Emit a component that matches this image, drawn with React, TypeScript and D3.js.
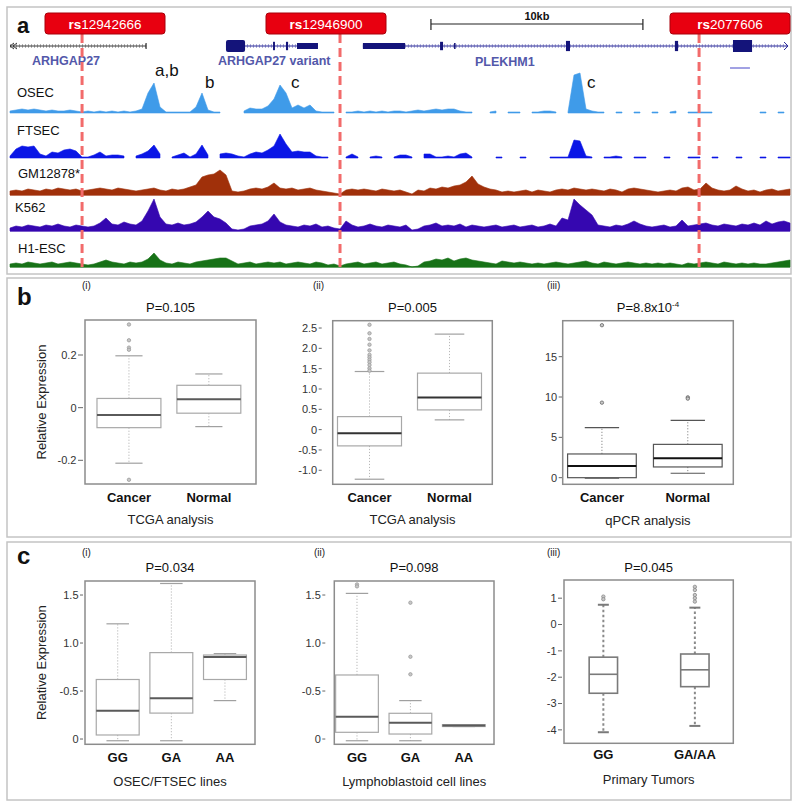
import React from 'react';
import * as d3 from 'd3';

const FONT = "'Liberation Sans', Arial, Helvetica, sans-serif";

// ================= Panel a data =================
const SPAN_KB = 36.8;
const N_BINS = 131;
const BIN_KB = SPAN_KB / (N_BINS - 1);

const trackNames = ['OSEC', 'FTSEC', 'GM12878*', 'K562', 'H1-ESC'];

const osec = [
  2, 3, 4, 3, 4, 3, 2, 3, 2, 2,
  3, 2, 1, 2, 1, 2, 1, 2, 1, 2,
  1, 2, 4, 20, 30, 6, 1, 1, 1, 1,
  1, 6, 20, 3, 1, 1, null, null, null, 2,
  5, 4, 4, 7, 14, 28, 20, 5, 8, 5,
  8, 2, 1, 1, 1, null, 1, 1, 2, 1,
  2, 1, 2, 1, 2, 2, 1, 2, 3, 2,
  3, 4, 3, 4, 4, 2, 1, 1, null, null,
  1, 2, null, 1, 1, 1, null, 1, 1, 2,
  2, 1, null, 1, 38, 40, 4, 2, 1, 1,
  null, 1, 1, null, 1, 1, null, 1, 1, null,
  1, 2, null, 1, 1, 1, 1, 1, null, null,
  null, null, null, null, null, 1, 1, null, 1, 1,
  null,
];
const ftsec = [
  2, 9, 12, 11, 12, 4, 2, 6, 5, 8,
  9, 7, 1, 1, 3, 6, 2, 3, 3, 2,
  null, 2, 4, 7, 13, 4, null, 1, 3, 5,
  1, 4, 13, 3, null, 4, 5, 4, 2, 1,
  4, 6, 5, 8, 12, 24, 14, 6, 7, 6,
  6, 2, 1, 1, null, null, 1, 4, 1, null,
  1, 2, 1, null, 1, 3, 3, 1, null, 4,
  4, 1, 1, 2, 1, 4, 5, 1, null, null,
  null, 1, 1, null, null, 1, 1, null, null, null,
  1, 1, 1, 1, 18, 17, 2, 1, null, 1,
  1, 2, 1, null, 1, 1, 1, null, null, 1,
  1, null, null, 1, 1, 1, null, 1, 1, null,
  null, 1, 1, null, null, 1, 1, null, 1, 1,
  1,
];
const gm12878 = [
  4, 5, 4, 6, 5, 4, 6, 5, 7, 6,
  5, 6, 4, 5, 6, 7, 6, 5, 7, 6,
  5, 4, 5, 6, 7, 5, 4, 6, 5, 6,
  8, 10, 18, 20, 21, 25, 20, 4, 3, 4,
  6, 7, 6, 8, 12, 7, 6, 7, 5, 6,
  7, 5, 4, 3, 2, 1, 5, 6, 5, 6,
  5, 4, 6, 5, 4, 5, 3, 1, 5, 4,
  7, 6, 8, 7, 9, 10, 13, 19, 11, 8,
  6, 5, 3, 4, 3, 4, 5, 3, 5, 4,
  3, 5, 6, 5, 7, 6, 5, 6, 5, 4,
  6, 5, 3, 6, 7, 6, 5, 4, 3, 4,
  5, 4, 7, 8, 5, 6, 12, 7, 5, 4,
  5, 9, 6, 4, 5, 3, 5, 6, 4, 5,
  6,
];
const k562 = [
  3, 5, 4, 6, 5, 4, 6, 5, 7, 5,
  4, 6, 5, 4, 5, 8, 13, 7, 6, 9,
  7, 6, 10, 20, 32, 14, 7, 6, 8, 6,
  7, 9, 14, 20, 14, 12, 8, 2, 1, 2,
  5, 6, 7, 10, 17, 9, 6, 5, 4, 6,
  5, 7, 4, 5, 3, 2, 10, 6, 4, 5,
  7, 5, 4, 6, 5, 4, 6, 1, 2, 5,
  6, 8, 5, 6, 5, 7, 4, 6, 5, 4,
  5, 6, 4, 5, 6, 4, 5, 6, 4, 5,
  7, 5, 13, 11, 32, 26, 21, 16, 6, 5,
  4, 6, 5, 7, 10, 7, 5, 4, 5, 6,
  4, 5, 11, 5, 6, 7, 8, 6, 5, 7,
  6, 5, 7, 6, 8, 6, 10, 7, 9, 10,
  8,
];
const h1esc = [
  3, 4, 3, 5, 4, 3, 4, 5, 3, 4,
  5, 4, 3, 2, 3, 5, 7, 5, 4, 3,
  5, 4, 5, 8, 14, 7, 4, 3, 5, 4,
  3, 5, 6, 7, 8, 9, 9, 6, 3, 4,
  5, 3, 4, 5, 4, 5, 3, 4, 5, 4,
  3, 5, 4, 2, 3, 1, 3, 4, 5, 3,
  4, 5, 3, 4, 5, 3, 2, 0, 1, 5,
  6, 8, 7, 9, 6, 8, 9, 7, 6, 5,
  4, 3, 6, 5, 4, 5, 4, 3, 4, 3,
  4, 5, 4, 3, 4, 5, 6, 4, 3, 5,
  4, 3, 4, 5, 4, 3, 4, 3, 4, 3,
  4, 3, 2, 4, 3, 4, 5, 4, 3, 5,
  4, 3, 4, 3, 4, 3, 3, 4, 5, 6,
  7,
];
const trackValues = [osec, ftsec, gm12878, k562, h1esc];

const snpIds = ['rs12942666', 'rs12946900', 'rs2077606'];
const snpKb = [3.40, 15.57, 32.51];

const peakLabels = ['a,b', 'b', 'c', 'c'];
const peakKb = [6.70, 9.01, 12.83, 26.84];

const geneNames = ['ARHGAP27', 'ARHGAP27 variant', 'PLEKHM1'];
const geneStartKb = [0, 10.19, 16.65];
const geneEndKb = [6.42, 14.53, 36.66];
const exonStartKb = [10.19, 12.41, 13.02, 13.54, 16.65, 20.29, 20.95, 26.23, 31.37, 34.11];
const exonEndKb = [11.09, 12.50, 13.12, 14.53, 18.64, 20.43, 20.99, 26.42, 31.52, 35.01];
const exonLevel = [1, 0.7, 0.7, 0.5, 0.5, 0.7, 0.5, 0.85, 0.85, 1];
const extraTranscriptKb = [33.97, 34.91];
const scaleBarKb = [19.86, 29.86];
const scaleBarLabel = '10kb';

// ================= Panel b / c data =================
const bI_cats = ['Cancer', 'Normal'];
const bI_q1 = [-0.076, -0.021];
const bI_med = [-0.028, 0.032];
const bI_q3 = [0.035, 0.085];
const bI_lo = [-0.211, -0.072];
const bI_hi = [0.197, 0.128];
const bI_out = [[0.316, 0.256, 0.228, 0.22, -0.274], []];
const bI_ticks = [-0.2, 0, 0.2];
const bI_tickLabels = ['-0.2', '0', '0.2'];

const bII_cats = ['Cancer', 'Normal'];
const bII_q1 = [-0.40, 0.485];
const bII_med = [-0.09, 0.79];
const bII_q3 = [0.32, 1.39];
const bII_lo = [-1.22, 0.24];
const bII_hi = [1.43, 2.35];
const bII_out = [[2.58, 2.37, 2.23, 2.09, 1.95, 1.84, 1.78, 1.72, 1.66, 1.59, 1.51, 1.45], []];
const bII_ticks = [-1, -0.5, 0, 0.5, 1, 1.5, 2, 2.5];
const bII_tickLabels = ['-1.0', '-0.5', '0', '0.5', '1.0', '1.5', '2.0', '2.5'];

const bIII_cats = ['Cancer', 'Normal'];
const bIII_q1 = [0, 1.33];
const bIII_med = [1.45, 2.4];
const bIII_q3 = [2.94, 4.13];
const bIII_lo = [-0.05, 0.55];
const bIII_hi = [6.2, 7.1];
const bIII_out = [[18.9, 9.3], [9.96, 9.8]];
const bIII_ticks = [0, 5, 10, 15];
const bIII_tickLabels = ['0', '5', '10', '15'];

const cI_cats = ['GG', 'GA', 'AA'];
const cI_q1 = [0.042, 0.27, 0.62];
const cI_med = [0.295, 0.424, 0.855];
const cI_q3 = [0.62, 0.9, 0.875];
const cI_lo = [-0.018, -0.018, 0.40];
const cI_hi = [1.2, 1.62, 0.89];
const cI_out: number[][] = [[], [], []];
const cI_ticks = [0, 0.5, 1.0, 1.5];
const cI_tickLabels = ['0', '-0.5', '1.0', '1.5'];

const cII_cats = ['GG', 'GA', 'AA'];
const cII_q1 = [0.07, 0.052, 0.13];
const cII_med = [0.232, 0.17, 0.14];
const cII_q3 = [0.667, 0.268, 0.15];
const cII_lo = [-0.018, -0.018, 0.13];
const cII_hi = [1.517, 0.4, 0.15];
const cII_out = [[1.61, 1.59], [0.857, 0.674, 1.42], []];
const cII_ticks = [0, 0.5, 1.0, 1.5];
const cII_tickLabels = ['0', '-0.5', '1.0', '1.5'];

const cIII_cats = ['GG', 'GA/AA'];
const cIII_q1 = [-2.61, -2.36];
const cIII_med = [-1.89, -1.72];
const cIII_q3 = [-1.24, -1.12];
const cIII_lo = [-4.09, -3.85];
const cIII_hi = [0.75, 0.64];
const cIII_out = [[1.06, 0.96], [1.43, 1.31, 1.12, 1.0, 0.87]];
const cIII_ticks = [-4, -3, -2, -1, 0, 1];
const cIII_tickLabels = ['-4', '-3', '-2', '-1', '0', '1'];

// ================= Layout / styles =================
const trackBase = [113, 158, 195, 231, 267];
const trackColors = ['#3f9be9', '#0a16e6', '#a0300a', '#3507b0', '#177217'];
const trackLabelPos = [[17, 97], [17, 135], [18, 178], [15, 212], [18, 253]];
const snpBoxX = [45, 266, 670];
const peakLabelDx = [3, 4, 9, 8];
const peakLabelY = [76, 88, 88, 88];
const geneLabelPos = [[32, 65], [218, 65], [475, 66]];

type Style = {
  box: string; boxW: number; med: string; medW: number; whisk: string; whiskW: number;
  dash: string; cap: string; capSW: number; frame: string; out: string;
};
const lightStyle: Style = { box: '#a8a8a8', boxW: 1.2, med: '#5a5a5a', medW: 2, whisk: '#b8b8b8', whiskW: 1, dash: '1.2 1.8', cap: '#a0a0a0', capSW: 1.2, frame: '#8c8c8c', out: '#9a9a9a' };
const darkStyle: Style = { box: '#555', boxW: 1.2, med: '#111', medW: 2, whisk: '#888', whiskW: 1, dash: '1.2 1.8', cap: '#555', capSW: 1.2, frame: '#8c8c8c', out: '#666' };
const tumorStyle: Style = { box: '#7a7a7a', boxW: 1.6, med: '#7a7a7a', medW: 1.6, whisk: '#8a8a8a', whiskW: 2, dash: '2.5 2.5', cap: '#7a7a7a', capSW: 2, frame: '#8c8c8c', out: '#888' };

type BoxCfg = {
  frame: [number, number, number, number];
  xDomain: [number, number]; yDomain: [number, number];
  cats: string[]; q1: number[]; med: number[]; q3: number[]; lo: number[]; hi: number[]; out: number[][];
  ticks: number[]; tickLabels: string[]; tickGap: number; tickLen: number;
  boxW: number; capW: number; style: Style;
  title: string; titleSup?: string; titleY: number;
  sub: string; subX: number; subY: number;
  xlabel: string; catY: number; xlabelY: number; ylabel?: boolean;
};

const panels: BoxCfg[] = [
  { frame: [85, 320, 256, 484], xDomain: [0.45, 2.59], yDomain: [-0.29, 0.333],
    cats: bI_cats, q1: bI_q1, med: bI_med, q3: bI_q3, lo: bI_lo, hi: bI_hi, out: bI_out,
    ticks: bI_ticks, tickLabels: bI_tickLabels, tickGap: 2, tickLen: 5, boxW: 0.8, capW: 0.34, style: lightStyle,
    title: 'P=0.105', titleY: 312, sub: '(i)', subX: 82, subY: 289, xlabel: 'TCGA analysis', catY: 502, xlabelY: 524, ylabel: true },
  { frame: [332.7, 320.7, 492.3, 484.3], xDomain: [0.54, 2.535], yDomain: [-1.345, 2.68],
    cats: bII_cats, q1: bII_q1, med: bII_med, q3: bII_q3, lo: bII_lo, hi: bII_hi, out: bII_out,
    ticks: bII_ticks, tickLabels: bII_tickLabels, tickGap: 11, tickLen: 3, boxW: 0.8, capW: 0.37, style: { ...lightStyle, med: '#333' },
    title: 'P=0.005', titleY: 312, sub: '(ii)', subX: 313, subY: 289, xlabel: 'TCGA analysis', catY: 502, xlabelY: 524 },
  { frame: [562.7, 320.7, 733.3, 484.3], xDomain: [0.543, 2.53], yDomain: [-0.82, 19.46],
    cats: bIII_cats, q1: bIII_q1, med: bIII_med, q3: bIII_q3, lo: bIII_lo, hi: bIII_hi, out: bIII_out,
    ticks: bIII_ticks, tickLabels: bIII_tickLabels, tickGap: 0, tickLen: 4, boxW: 0.8, capW: 0.4, style: darkStyle,
    title: 'P=8.8x10', titleSup: '-4', titleY: 312, sub: '(iii)', subX: 547, subY: 289, xlabel: 'qPCR analysis', catY: 502, xlabelY: 525 },
  { frame: [85, 581, 255, 744.3], xDomain: [0.39, 3.56], yDomain: [-0.055, 1.646],
    cats: cI_cats, q1: cI_q1, med: cI_med, q3: cI_q3, lo: cI_lo, hi: cI_hi, out: cI_out,
    ticks: cI_ticks, tickLabels: cI_tickLabels, tickGap: 2, tickLen: 3, boxW: 0.8, capW: 0.42, style: lightStyle,
    title: 'P=0.034', titleY: 572, sub: '(i)', subX: 82, subY: 556, xlabel: 'OSEC/FTSEC lines', catY: 762, xlabelY: 786, ylabel: true },
  { frame: [334.3, 581, 494, 744.3], xDomain: [0.575, 3.565], yDomain: [-0.055, 1.646],
    cats: cII_cats, q1: cII_q1, med: cII_med, q3: cII_q3, lo: cII_lo, hi: cII_hi, out: cII_out,
    ticks: cII_ticks, tickLabels: cII_tickLabels, tickGap: 9, tickLen: 3, boxW: 0.8, capW: 0.42, style: lightStyle,
    title: 'P=0.098', titleY: 572, sub: '(ii)', subX: 314, subY: 556, xlabel: 'Lymphoblastoid cell lines', catY: 762, xlabelY: 786 },
  { frame: [564, 580, 733.3, 743.3], xDomain: [0.57, 2.42], yDomain: [-4.51, 1.69],
    cats: cIII_cats, q1: cIII_q1, med: cIII_med, q3: cIII_q3, lo: cIII_lo, hi: cIII_hi, out: cIII_out,
    ticks: cIII_ticks, tickLabels: cIII_tickLabels, tickGap: 2, tickLen: 4, boxW: 0.31, capW: 0.12, style: tumorStyle,
    title: 'P=0.045', titleY: 572, sub: '(iii)', subX: 547, subY: 556, xlabel: 'Primary Tumors', catY: 759, xlabelY: 784 },
];

function BoxPanel({ c }: { c: BoxCfg }) {
  const [fx0, fy0, fx1, fy1] = c.frame;
  const xs = d3.scaleLinear().domain(c.xDomain).range([fx0, fx1]);
  const ys = d3.scaleLinear().domain(c.yDomain).range([fy1, fy0]);
  const unit = xs(1) - xs(0);
  const bw = c.boxW * unit;
  const cw = c.capW * unit;
  const cx = (fx0 + fx1) / 2;
  const s = c.style;
  return (
    <g>
      <text x={c.subX} y={c.subY} fontSize={10} fill="#222">{c.sub}</text>
      <text x={cx} y={c.titleY} fontSize={13} textAnchor="middle" fill="#111">
        {c.title}
        {c.titleSup ? <tspan fontSize={8} dy={-5}>{c.titleSup}</tspan> : null}
      </text>
      {c.ticks.map((t, i) => (
        <g key={'t' + i}>
          <line x1={fx0 - c.tickGap - c.tickLen} x2={fx0 - c.tickGap} y1={ys(t)} y2={ys(t)} stroke="#666" strokeWidth={1} />
          <text x={fx0 - c.tickGap - c.tickLen - 1.5} y={ys(t)} dy="0.36em" textAnchor="end" fontSize={11} fill="#333">{c.tickLabels[i]}</text>
        </g>
      ))}
      {c.cats.map((cat, i) => {
        const px = xs(i + 1);
        return (
          <g key={cat}>
            <line x1={px} x2={px} y1={ys(c.q3[i])} y2={ys(c.hi[i])} stroke={s.whisk} strokeWidth={s.whiskW} strokeDasharray={s.dash} />
            <line x1={px} x2={px} y1={ys(c.q1[i])} y2={ys(c.lo[i])} stroke={s.whisk} strokeWidth={s.whiskW} strokeDasharray={s.dash} />
            <line x1={px - cw / 2} x2={px + cw / 2} y1={ys(c.hi[i])} y2={ys(c.hi[i])} stroke={s.cap} strokeWidth={s.capSW} />
            <line x1={px - cw / 2} x2={px + cw / 2} y1={ys(c.lo[i])} y2={ys(c.lo[i])} stroke={s.cap} strokeWidth={s.capSW} />
            <rect x={px - bw / 2} y={ys(c.q3[i])} width={bw} height={Math.max(0.5, ys(c.q1[i]) - ys(c.q3[i]))} fill="#fff" stroke={s.box} strokeWidth={s.boxW} />
            <line x1={px - bw / 2} x2={px + bw / 2} y1={ys(c.med[i])} y2={ys(c.med[i])} stroke={s.med} strokeWidth={s.medW} />
            {c.out[i].map((o, j) => (
              <circle key={j} cx={px} cy={ys(o)} r={1.7} fill="#c8c8c8" stroke={s.out} strokeWidth={0.8} />
            ))}
            <text x={px} y={c.catY} textAnchor="middle" fontSize={13} fontWeight="bold" fill="#111">{cat}</text>
          </g>
        );
      })}
      <rect x={fx0} y={fy0} width={fx1 - fx0} height={fy1 - fy0} fill="none" stroke={s.frame} strokeWidth={1.5} />
      <text x={cx} y={c.xlabelY} textAnchor="middle" fontSize={13} fill="#222">{c.xlabel}</text>
      {c.ylabel ? (
        <text transform={`translate(46,${(fy0 + fy1) / 2}) rotate(-90)`} textAnchor="middle" fontSize={13} fill="#222">Relative Expression</text>
      ) : null}
    </g>
  );
}

export default function App() {
  const x = d3.scaleLinear().domain([0, SPAN_KB]).range([10, 790]);
  const hScale = d3.scaleLinear().domain([0, 40]).range([0, 40]);
  const geneY = 46;

  const areas = trackValues.map((vals, k) => {
    const base = trackBase[k];
    const gen = d3.area<number | null>()
      .defined((d) => d !== null)
      .x((_, i) => x(i * BIN_KB))
      .y0(base)
      .y1((d) => base - hScale(d as number))
      .curve(d3.curveLinear);
    return gen(vals) || '';
  });

  return (
    <svg width={800} height={805} style={{ position: 'absolute', left: 0, top: 0, background: '#fff' }} fontFamily={FONT}>
      <rect x={0} y={0} width={800} height={805} fill="#fff" />
      {/* panel frames */}
      <rect x={7} y={7} width={784} height={267} fill="none" stroke="#c4c4c4" strokeWidth={1.5} />
      <rect x={7} y={278} width={784} height={259} fill="none" stroke="#c4c4c4" strokeWidth={1.5} />
      <rect x={7} y={542} width={784} height={258} fill="none" stroke="#c4c4c4" strokeWidth={1.5} />

      {/* ===== Panel a ===== */}
      <text x={17} y={33} fontSize={22} fontWeight="bold" fill="#111">a</text>

      {/* scale bar */}
      <line x1={x(scaleBarKb[0])} x2={x(scaleBarKb[1])} y1={24} y2={24} stroke="#222" strokeWidth={1.2} />
      <line x1={x(scaleBarKb[0])} x2={x(scaleBarKb[0])} y1={19} y2={30} stroke="#222" strokeWidth={1.2} />
      <line x1={x(scaleBarKb[1])} x2={x(scaleBarKb[1])} y1={19} y2={30} stroke="#222" strokeWidth={1.2} />
      <text x={x((scaleBarKb[0] + scaleBarKb[1]) / 2)} y={20} textAnchor="middle" fontSize={11} fontWeight="bold" fill="#111">{scaleBarLabel}</text>

      {/* genes */}
      {geneNames.map((g, i) => {
        const col = i === 0 ? '#3a3a3a' : '#2a2a9a';
        return (
          <g key={g}>
            <line x1={x(geneStartKb[i])} x2={x(geneEndKb[i])} y1={geneY} y2={geneY} stroke={col} strokeWidth={1} />
            <line x1={x(geneStartKb[i])} x2={x(geneEndKb[i])} y1={geneY} y2={geneY} stroke={col} strokeWidth={4} strokeDasharray="0.7 2.3" opacity={0.55} />
            <text x={geneLabelPos[i][0]} y={geneLabelPos[i][1]} fontSize={12.5} fontWeight="bold" fill="#5358aa">{g}</text>
          </g>
        );
      })}
      <line x1={x(geneEndKb[0])} x2={x(geneEndKb[0])} y1={geneY - 3} y2={geneY + 3} stroke="#333" strokeWidth={1.2} />
      <path d={`M${x(0) + 4},${geneY - 3} L${x(0)},${geneY} L${x(0) + 4},${geneY + 3} M${x(0) + 7},${geneY - 3} L${x(0) + 3},${geneY} L${x(0) + 7},${geneY + 3}`} fill="none" stroke="#333" strokeWidth={1} />
      <path d={`M${x(geneEndKb[2]) - 3},${geneY - 4} L${x(geneEndKb[2]) + 1},${geneY} L${x(geneEndKb[2]) - 3},${geneY + 4}`} fill="none" stroke="#2a2a9a" strokeWidth={1} />
      {exonStartKb.map((s, i) => {
        const hh = 12 * exonLevel[i];
        return <rect key={i} x={x(s)} y={geneY - hh / 2} width={Math.max(1.5, x(exonEndKb[i]) - x(s))} height={hh} fill="#14147a" rx={i === 0 ? 2 : 0} />;
      })}
      <line x1={x(extraTranscriptKb[0])} x2={x(extraTranscriptKb[1])} y1={68} y2={68} stroke="#4545c8" strokeWidth={1} />

      {/* tracks */}
      {areas.map((d, k) => (
        <g key={trackNames[k]}>
          <path d={d} fill={trackColors[k]} stroke={trackColors[k]} strokeWidth={0.6} />
          <text x={trackLabelPos[k][0]} y={trackLabelPos[k][1]} fontSize={13} fill="#111">{trackNames[k]}</text>
        </g>
      ))}
      <line x1={x(0)} x2={x(SPAN_KB)} y1={trackBase[2]} y2={trackBase[2]} stroke={trackColors[2]} strokeWidth={1} />
      <line x1={x(0)} x2={x(SPAN_KB)} y1={trackBase[3]} y2={trackBase[3]} stroke={trackColors[3]} strokeWidth={1} />
      <line x1={x(0)} x2={x(SPAN_KB)} y1={trackBase[4]} y2={trackBase[4]} stroke={trackColors[4]} strokeWidth={1} />

      {peakLabels.map((l, i) => (
        <text key={i} x={x(peakKb[i]) + peakLabelDx[i]} y={peakLabelY[i]} fontSize={17} fill="#111">{l}</text>
      ))}

      {/* SNPs */}
      {snpKb.map((kb, i) => (
        <line key={'d' + i} x1={x(kb)} x2={x(kb)} y1={34} y2={272} stroke="#f26b6b" strokeWidth={3} strokeDasharray="9 5" />
      ))}
      {snpIds.map((id, i) => (
        <g key={id}>
          <rect x={snpBoxX[i]} y={13} width={120} height={21} rx={3} fill="#e80010" stroke="#a8000a" strokeWidth={1} />
          <text x={snpBoxX[i] + 60} y={28.5} textAnchor="middle" fontSize={13.5} fill="#fff">
            <tspan fontWeight="bold">{id.slice(0, 2)}</tspan>
            <tspan>{id.slice(2)}</tspan>
          </text>
        </g>
      ))}

      {/* ===== Panels b & c ===== */}
      <text x={17} y={305} fontSize={24} fontWeight="bold" fill="#111">b</text>
      <text x={17} y={564} fontSize={24} fontWeight="bold" fill="#111">c</text>
      {panels.map((c, i) => <BoxPanel key={i} c={c} />)}
    </svg>
  );
}
